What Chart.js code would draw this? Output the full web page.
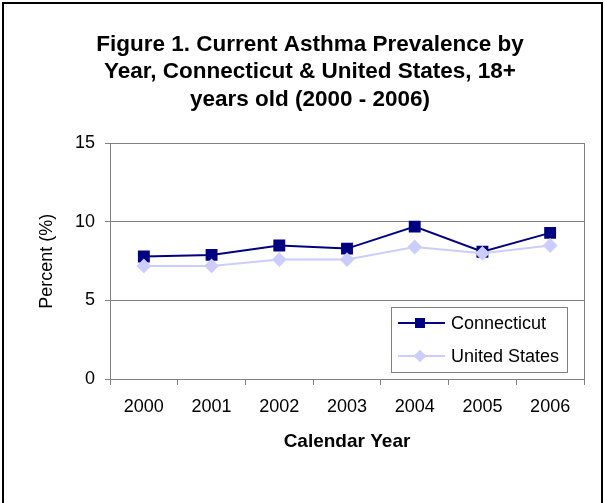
<!DOCTYPE html>
<html>
<head>
<meta charset="utf-8">
<script src="https://cdn.jsdelivr.net/npm/chart.js@4"></script>
<style>
  html, body { margin: 0; padding: 0; background: #ffffff; }
  #wrap { position: relative; width: 605px; height: 503px; }
</style>
</head>
<body>
<div id="wrap"><canvas id="asthma_chart" width="605" height="503"></canvas></div>
<script>
const years = ["2000", "2001", "2002", "2003", "2004", "2005", "2006"];
const connecticut = [7.8, 7.9, 8.5, 8.3, 9.7, 8.1, 9.3];
const unitedStates = [7.2, 7.2, 7.6, 7.6, 8.4, 8.0, 8.5];
const titleLines = [
    "Figure 1. Current Asthma Prevalence by",
    "Year, Connecticut & United States, 18+",
    "years old (2000 - 2006)"
];

const FONT = "'Liberation Sans', Arial, sans-serif";

// frame on left / top / right, white background
const framePlugin = {
    id: 'frame',
    beforeDraw(chart) {
        const c = chart.ctx;
        c.save();
        c.fillStyle = '#ffffff';
        c.fillRect(0, 0, chart.width, chart.height);
        c.strokeStyle = '#000000';
        c.lineWidth = 2;
        c.beginPath();
        c.moveTo(3, chart.height);
        c.lineTo(3, 3);
        c.lineTo(602, 3);
        c.lineTo(602, chart.height);
        c.stroke();
        c.restore();
    }
};

// gray box round the plot area
const plotBorder = {
    id: 'plotBorder',
    beforeDatasetsDraw(chart) {
        const a = chart.chartArea;
        const c = chart.ctx;
        c.save();
        c.strokeStyle = '#808080';
        c.lineWidth = 1;
        c.strokeRect(Math.round(a.left) + 0.5, Math.round(a.top) + 0.5,
                     Math.round(a.right - a.left), Math.round(a.bottom - a.top));
        c.restore();
    }
};

// legend drawn inside the plot area, lower right
const innerLegend = {
    id: 'innerLegend',
    afterDraw(chart) {
        const a = chart.chartArea;
        const c = chart.ctx;
        const right = a.right - 17, bottom = a.bottom - 7;
        const w = 176, h = 65;
        const left = right - w, top = bottom - h;
        c.save();
        c.fillStyle = '#ffffff';
        c.fillRect(left, top, w, h);
        c.strokeStyle = '#808080';
        c.lineWidth = 1;
        c.strokeRect(Math.round(left) + 0.5, Math.round(top) + 0.5, w, h);
        c.font = '18px ' + FONT;
        c.textBaseline = 'middle';
        chart.data.datasets.forEach(function (ds, i) {
            const y = top + 16 + i * 33;
            c.strokeStyle = ds.borderColor;
            c.lineWidth = ds.borderWidth;
            c.beginPath();
            c.moveTo(left + 7, y);
            c.lineTo(left + 54, y);
            c.stroke();
            c.fillStyle = ds.pointBackgroundColor;
            Chart.helpers.drawPoint(c, {
                pointStyle: ds.pointStyle, radius: ds.pointRadius, rotation: 0, borderWidth: 0
            }, left + 29, y);
            c.fill();
            c.fillStyle = '#000000';
            c.fillText(ds.label, left + 60, y + 1);
        });
        c.restore();
    }
};

const ctx = document.getElementById('asthma_chart').getContext('2d');
new Chart(ctx, {
    type: 'line',
    data: {
        labels: years,
        datasets: [
            {
                label: 'Connecticut',
                data: connecticut,
                borderColor: '#000080',
                backgroundColor: '#000080',
                pointBackgroundColor: '#000080',
                pointBorderColor: '#000080',
                pointStyle: 'rect',
                pointRadius: 7,
                borderWidth: 2,
                tension: 0,
                order: 1
            },
            {
                label: 'United States',
                data: unitedStates,
                borderColor: '#ccccff',
                backgroundColor: '#ccccff',
                pointBackgroundColor: '#ccccff',
                pointBorderColor: '#ccccff',
                pointStyle: 'rectRot',
                pointRadius: 6,
                borderWidth: 2,
                tension: 0,
                order: 0
            }
        ]
    },
    options: {
        responsive: false,
        animation: false,
        layout: { padding: { left: 36, right: 21, top: 0, bottom: 0 } },
        plugins: {
            legend: { display: false },
            tooltip: { enabled: false },
            title: {
                display: true,
                text: titleLines,
                color: '#000000',
                font: { family: FONT, size: 22.5, weight: 'bold', lineHeight: 1.22 },
                padding: { top: 31, bottom: 30 }
            }
        },
        scales: {
            x: {
                offset: true,
                afterFit: function (scale) { scale.height = 124; },
                grid: {
                    offset: true,
                    drawOnChartArea: false,
                    drawTicks: true,
                    tickLength: 6,
                    color: '#808080'
                },
                border: { color: '#808080' },
                ticks: { color: '#000000', font: { family: FONT, size: 18 }, padding: 11, maxRotation: 0 },
                title: {
                    display: true,
                    text: 'Calendar Year',
                    color: '#000000',
                    font: { family: FONT, size: 19, weight: 'bold' },
                    padding: { top: 6, bottom: 50 }
                }
            },
            y: {
                min: 0,
                max: 15,
                afterFit: function (scale) { scale.width = 74; },
                ticks: { stepSize: 5, color: '#000000', font: { family: FONT, size: 18 }, padding: 10 },
                grid: { color: '#808080', tickLength: 5 },
                border: { color: '#808080' },
                title: {
                    display: true,
                    text: 'Percent (%)',
                    color: '#000000',
                    font: { family: FONT, size: 18 },
                    padding: { top: 0, bottom: 10 }
                }
            }
        }
    },
    plugins: [framePlugin, plotBorder, innerLegend]
});
</script>
</body>
</html>
